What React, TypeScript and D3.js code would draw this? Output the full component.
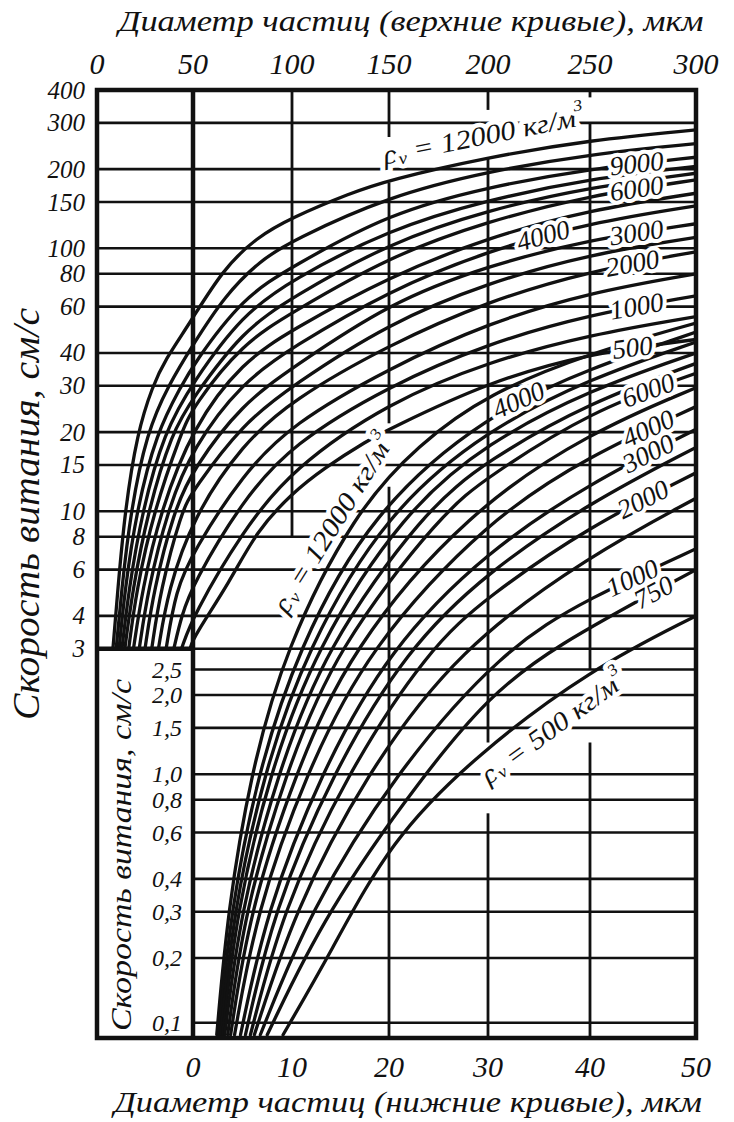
import React from 'react';
import * as d3 from 'd3';

// ---------- axis ticks ----------
const topTicks = [0, 50, 100, 150, 200, 250, 300];
const bottomTicks = [0, 10, 20, 30, 40, 50];
const upperVTicks = [400, 300, 200, 150, 100, 80, 60, 40, 30, 20, 15, 10, 8, 6, 4, 3];
const lowerVTicks = [2.5, 2.0, 1.5, 1.0, 0.8, 0.6, 0.4, 0.3, 0.2, 0.1];
const lowerVTickText = ['2,5', '2,0', '1,5', '1,0', '0,8', '0,6', '0,4', '0,3', '0,2', '0,1'];

// ---------- particle densities, kg/m3 ----------
const densities = [12000, 10000, 9000, 8000, 7000, 6000, 5000, 4000, 3000, 2500, 2000, 1500, 1000, 750, 500];

// upper curves: [diameter µm (top axis), velocity cm/s]
const upperCurves: number[][][] = [
  [[8.3, 3], [10.8, 5], [14.5, 10], [21, 20], [29, 30], [35.4, 37.6], [48.4, 52], [65, 83], [82, 110], [100, 131], [130, 162], [150, 182], [200, 222], [250, 258], [300, 282]],
  [[10, 3], [12.8, 5], [17.5, 10], [26, 20], [37, 30], [50, 43], [66, 66], [84, 90], [100, 107], [150, 158], [200, 196], [250, 228], [300, 250]],
  [[11.5, 3], [14.5, 5], [20.5, 10], [31, 20], [44, 30], [50, 36], [75, 65], [100, 85], [150, 136], [200, 171], [250, 201], [300, 222]],
  [[13, 3], [16.5, 5], [23.5, 10], [35, 20], [50, 31], [75, 56], [100, 76], [150, 118], [200, 153], [250, 184], [300, 205]],
  [[14.5, 3], [18.5, 5], [26.5, 10], [39, 20], [50, 27], [75, 48.5], [100, 65], [150, 105], [200, 140], [250, 171], [300, 193]],
  [[16.5, 3], [20.5, 5], [29.5, 10], [44, 20], [50, 25], [75, 43.5], [100, 57], [150, 93], [200, 127], [250, 159], [300, 182]],
  [[19, 3], [23.5, 5], [33, 10], [50, 21], [75, 37], [100, 49], [150, 78], [200, 110], [250, 140], [300, 162]],
  [[22, 3], [26.5, 5], [36.5, 10], [50, 17.6], [75, 31], [100, 42], [150, 69], [200, 98], [250, 125], [300, 145]],
  [[25, 3], [29.5, 5], [40, 10], [50, 14.5], [75, 25.7], [100, 35], [150, 62], [200, 86], [250, 108], [300, 124]],
  [[28.5, 3], [33, 5], [44, 10], [50, 12], [75, 21.5], [100, 30], [150, 52], [200, 74], [250, 95], [300, 110]],
  [[32, 3], [37, 5], [50, 9.5], [75, 18], [100, 26.5], [150, 43], [200, 63], [250, 82], [300, 97]],
  [[36, 3], [41, 5], [50, 7], [75, 13.8], [100, 21.5], [150, 35], [200, 52], [250, 68], [300, 80]],
  [[40, 3], [44, 4], [50, 5.3], [75, 11], [100, 18], [150, 30], [200, 43.5], [250, 56], [300, 66]],
  [[44, 3], [50, 4], [75, 8.4], [100, 14.5], [150, 26], [200, 37], [250, 47], [300, 55]],
  [[48.5, 3], [50, 3.3], [68.7, 5.4], [82, 8.4], [100, 11.7], [116, 14.5], [139, 18.6], [150, 20.5], [200, 31], [250, 40], [300, 45]],
];

// lower curves: [diameter µm (bottom axis), velocity cm/s]
const lowerCurves: number[][][] = [
  [[2.4, 0.088], [3.5, 0.3], [5.8, 1], [9.3, 3], [16.5, 10], [23, 18], [30, 28], [40, 40], [50, 52]],
  [[2.6, 0.088], [3.8, 0.3], [6.5, 1], [10.6, 3], [18.2, 10], [30, 23.5], [40, 35], [50, 48]],
  [[2.8, 0.088], [4.1, 0.3], [7.1, 1], [11.5, 3], [19.8, 10], [30, 20.5], [40, 32], [50, 44]],
  [[3.0, 0.088], [4.4, 0.3], [7.7, 1], [12.4, 3], [21.5, 10], [30, 18.3], [40, 29], [50, 40]],
  [[3.2, 0.088], [4.8, 0.3], [8.5, 1], [13.4, 3], [23.5, 10], [30, 15.7], [40, 26], [50, 36.5]],
  [[3.5, 0.088], [5.2, 0.3], [9.3, 1], [14.5, 3], [25.5, 10], [30, 13.5], [40, 24], [50, 33.5]],
  [[3.8, 0.088], [5.7, 0.3], [10.3, 1], [16, 3], [28, 10], [40, 20], [50, 29.5]],
  [[4.2, 0.088], [6.4, 0.3], [11.4, 1], [17.8, 3], [30, 9.3], [40, 16.3], [50, 25]],
  [[4.8, 0.088], [7.4, 0.3], [12.9, 1], [20, 3], [30, 7.1], [40, 12.8], [50, 20.5]],
  [[5.3, 0.088], [8.1, 0.3], [14.1, 1], [21.8, 3], [30, 5.9], [40, 10.8], [50, 17.5]],
  [[5.8, 0.088], [9.0, 0.3], [15.6, 1], [24, 3], [30, 4.75], [40, 8.8], [50, 14]],
  [[6.2, 0.088], [10.2, 0.3], [17.6, 1], [27, 3], [40, 6.8], [50, 11.2]],
  [[6.8, 0.088], [11.8, 0.3], [20.5, 1], [31.5, 3], [40, 4.7], [50, 7.2]],
  [[7.5, 0.088], [13.5, 0.3], [23.5, 1], [30, 1.95], [36, 3], [50, 6.0]],
  [[9.1, 0.088], [14, 0.21], [20.1, 0.56], [29, 1.2], [40, 2.5], [50, 4.0]],
];

// vertical grid lines (top-axis diameters) and their visible spans in velocity
const verticalGridD = [50, 100, 150, 200, 250];
const verticalGridSpans: number[][][] = [
  [[400, 0.085]],
  [[400, 8]],
  [[400, 265], [178, 21.6], [12.4, 0.085]],
  [[400, 336], [222, 1.32], [0.71, 0.085]],
  [[400, 375], [300, 2.5], [1.32, 0.085]],
];

// curve labels
const upperLabelText = ['9000', '6000', '4000', '3000', '2000', '1000', '500'];
const upperLabelCurve = [2, 5, 7, 8, 10, 12, 14];
const upperLabelD = [272, 272, 227, 272, 270, 272, 270];

const lowerLabelText = ['4000', '6000', '4000', '3000', '2000', '1000', '750'];
const lowerLabelCurve = [1, 5, 7, 8, 10, 12, 13];
const lowerLabelD = [33, 45.5, 45.5, 45.5, 45, 44, 46];

const FONT = '"Liberation Serif", "Times New Roman", "DejaVu Serif", serif';

export default function App() {
  const xUp = d3.scaleLinear().domain(topTicks).range([97, 193, 292, 389, 488, 590, 696]);
  const xLow = d3.scaleLinear().domain(bottomTicks).range([193, 292, 389, 488, 590, 696]);
  const y = d3.scaleLog().domain([400, 0.2, 0.085]).range([90, 958, 1038]);

  const left = xUp(0);
  const right = xUp(300);
  const top = y(400);
  const bottom = y(0.085);
  const inner = xLow(0);

  const lineUp = d3.line<number[]>().x(p => xUp(p[0])).y(p => y(p[1])).curve(d3.curveBasis);
  const lineLow = d3.line<number[]>().x(p => xLow(p[0])).y(p => y(p[1])).curve(d3.curveBasis);

  const yAt = (curve: number[][], d: number) => {
    let i = 0;
    while (i < curve.length - 2 && curve[i + 1][0] < d) i++;
    const [d0, v0] = curve[i];
    const [d1, v1] = curve[i + 1];
    const t = (d - d0) / (d1 - d0);
    return y(v0) + (y(v1) - y(v0)) * t;
  };

  const place = (curve: number[][], xs: (v: number) => number, d: number, span: number) => {
    const xa = xs(d - span), ya = yAt(curve, d - span);
    const xb = xs(d + span), yb = yAt(curve, d + span);
    return { x: xs(d), y: yAt(curve, d), a: (Math.atan2(yb - ya, xb - xa) * 180) / Math.PI };
  };

  const haloStyle = { paintOrder: 'stroke' } as React.CSSProperties;

  const smallLabel = (text: string, curve: number[][], xs: (v: number) => number, d: number, span: number, key: string) => {
    const p = place(curve, xs, d, span);
    return (
      <g key={key} transform={`translate(${p.x},${p.y}) rotate(${p.a})`}>
        <text textAnchor="middle" dominantBaseline="central" fontSize={27} fontStyle="italic" fontFamily={FONT}
          fill="#111" stroke="#fff" strokeWidth={8} strokeLinejoin="round" style={haloStyle}>{text}</text>
      </g>
    );
  };

  const rhoLabel = (value: string, curve: number[][], xs: (v: number) => number, d: number, span: number,
    off: number, len: number, key: string) => {
    const p = place(curve, xs, d, span);
    return (
      <g key={key} transform={`translate(${p.x},${p.y}) rotate(${p.a}) translate(0,${off})`}>
        <text textAnchor="middle" dominantBaseline="central" fontSize={27} fontStyle="italic" fontFamily={FONT}
          fill="#111" stroke="#fff" strokeWidth={9} strokeLinejoin="round" style={haloStyle}
          textLength={len} lengthAdjust="spacingAndGlyphs">
          ρ<tspan fontSize={17} dy={6}>v</tspan><tspan dy={-6}>{` = ${value} кг/м`}</tspan><tspan fontSize={16} dy={-12}>3</tspan>
        </text>
      </g>
    );
  };

  return (
    <svg width={734} height={1122} style={{ position: 'absolute', left: 0, top: 0, background: '#fff' }}
      xmlns="http://www.w3.org/2000/svg">
      <rect x={0} y={0} width={734} height={1122} fill="#fff" />
      <defs>
        <clipPath id="plotClip">
          <rect x={left} y={top} width={right - left} height={bottom - top} />
        </clipPath>
      </defs>

      {/* horizontal grid */}
      <g stroke="#111" strokeWidth={2.6}>
        {upperVTicks.slice(1).map(v => (
          <line key={'hu' + v} x1={left} x2={right} y1={y(v)} y2={y(v)} />
        ))}
        {lowerVTicks.map(v => (
          <line key={'hl' + v} x1={inner} x2={right} y1={y(v)} y2={y(v)} />
        ))}
      </g>

      {/* vertical grid */}
      <g stroke="#111" strokeWidth={2.8}>
        {verticalGridD.map((d, i) =>
          verticalGridSpans[i].map((s, j) => (
            <line key={'v' + d + '-' + j} x1={xUp(d)} x2={xUp(d)} y1={y(s[0])} y2={y(s[1])} />
          ))
        )}
      </g>

      {/* curves */}
      <g clipPath="url(#plotClip)" fill="none" stroke="#111" strokeWidth={3.3} strokeLinecap="round">
        {upperCurves.map((c, i) => (
          <path key={'uc' + densities[i]} d={lineUp(c) || ''} />
        ))}
        {lowerCurves.map((c, i) => (
          <path key={'lc' + densities[i]} d={lineLow(c) || ''} />
        ))}
      </g>

      {/* curve labels */}
      {upperLabelText.map((t, i) => smallLabel(t, upperCurves[upperLabelCurve[i]], xUp, upperLabelD[i], 15, 'ul' + i))}
      {lowerLabelText.map((t, i) => smallLabel(t, lowerCurves[lowerLabelCurve[i]], xLow, lowerLabelD[i], 3, 'll' + i))}
      {rhoLabel(String(densities[0]), upperCurves[0], xUp, 200, 40, -22, 205, 'rho-up')}
      {rhoLabel(String(densities[0]), lowerCurves[0], xLow, 15.5, 5, -14, 205, 'rho-low')}
      {rhoLabel(String(densities[14]), lowerCurves[14], xLow, 35, 6, 24, 172, 'rho-500')}

      {/* frame */}
      <g fill="none" stroke="#111" strokeWidth={4.5}>
        <rect x={left} y={top} width={right - left} height={bottom - top} />
        <line x1={inner} x2={inner} y1={top} y2={bottom} />
        <line x1={left} x2={inner} y1={y(3)} y2={y(3)} />
      </g>

      {/* tick labels */}
      <g fontFamily={FONT} fontStyle="italic" fill="#111">
        {topTicks.map(t => (
          <text key={'tt' + t} x={xUp(t)} y={63} fontSize={30} textAnchor="middle" dominantBaseline="central">{t}</text>
        ))}
        {bottomTicks.map(t => (
          <text key={'bt' + t} x={xLow(t)} y={1066} fontSize={30} textAnchor="middle" dominantBaseline="central">{t}</text>
        ))}
        {upperVTicks.map(v => (
          <text key={'lt' + v} x={85} y={y(v)} fontSize={25} textAnchor="end" dominantBaseline="central">{v}</text>
        ))}
        {lowerVTicks.map((v, i) => (
          <text key={'it' + v} x={182} y={y(v)} fontSize={24} textAnchor="end" dominantBaseline="central">{lowerVTickText[i]}</text>
        ))}
      </g>

      {/* titles */}
      <g fontFamily={FONT} fontStyle="italic" fill="#111">
        <text x={411} y={20} fontSize={30} textAnchor="middle" dominantBaseline="central" textLength={585} lengthAdjust="spacingAndGlyphs">
          Диаметр частиц (верхние кривые), мкм
        </text>
        <text x={408} y={1101} fontSize={30} textAnchor="middle" dominantBaseline="central" textLength={588} lengthAdjust="spacingAndGlyphs">
          Диаметр частиц (нижние кривые), мкм
        </text>
        <text transform="translate(26,514) rotate(-90)" fontSize={37} textAnchor="middle" dominantBaseline="central" textLength={412} lengthAdjust="spacingAndGlyphs">
          Скорость витания, см/с
        </text>
        <text transform="translate(121,855) rotate(-90)" fontSize={29} textAnchor="middle" dominantBaseline="central" textLength={352} lengthAdjust="spacingAndGlyphs">
          Скорость витания, см/с
        </text>
      </g>
    </svg>
  );
}
